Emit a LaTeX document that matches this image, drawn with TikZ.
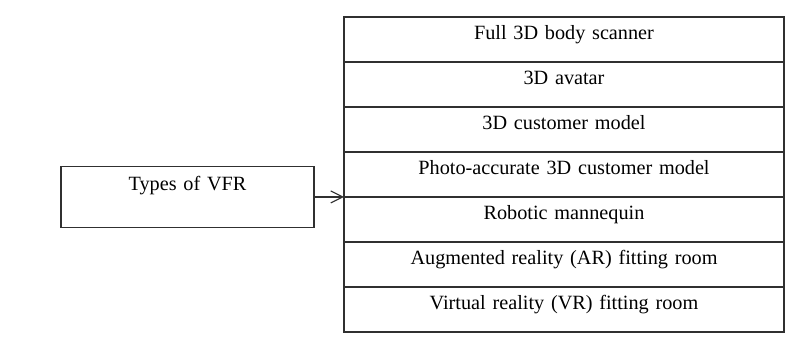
\documentclass[tikz,border=0pt]{standalone}
\usepackage{fontspec}
\setmainfont{Liberation Serif}
\usetikzlibrary{arrows.meta, positioning}
\definecolor{cline}{HTML}{303030}
\tikzset{
  every picture/.style={font=\fontsize{14.4}{17}\selectfont, line width=0.8pt},
  typebox/.style={draw=cline, rectangle, inner sep=0pt, outer sep=0pt, minimum width=11cm, text width=10.8cm, align=center, text height=0.56cm, text depth=0.565cm},
  rootbox/.style={draw=cline, rectangle, inner sep=0pt, outer sep=0pt, minimum width=6.325cm, text width=6.1cm, align=center, text height=0.61cm, text depth=0.915cm},
  arrow/.style={-{Straight Barb[length=0.3cm, width=0.3cm]}, draw=cline, line width=0.8pt},
}
\begin{document}
\begin{tikzpicture}
  \useasboundingbox (0,0) rectangle (20,8.5);
  % ---- list of types
  \node[typebox, anchor=north] (row1) at (14.1,8.075) {Full 3D body scanner};
  \node[typebox, below=0pt of row1] (row2) {3D avatar};
  \node[typebox, below=0pt of row2] (row3) {3D customer model};
  \node[typebox, below=0pt of row3] (row4) {Photo-accurate 3D customer model};
  \node[typebox, below=0pt of row4] (row5) {Robotic mannequin};
  \node[typebox, below=0pt of row5] (row6) {Augmented reality (AR) fitting room};
  \node[typebox, below=0pt of row6] (row7) {Virtual reality (VR) fitting room};
  % ---- root
  \node[rootbox, anchor=east] (vfr) at ([xshift=-0.75cm]row5.north west) {Types of VFR};
  \draw[arrow] (vfr.east) -- (row5.north west);
\end{tikzpicture}
\end{document}
